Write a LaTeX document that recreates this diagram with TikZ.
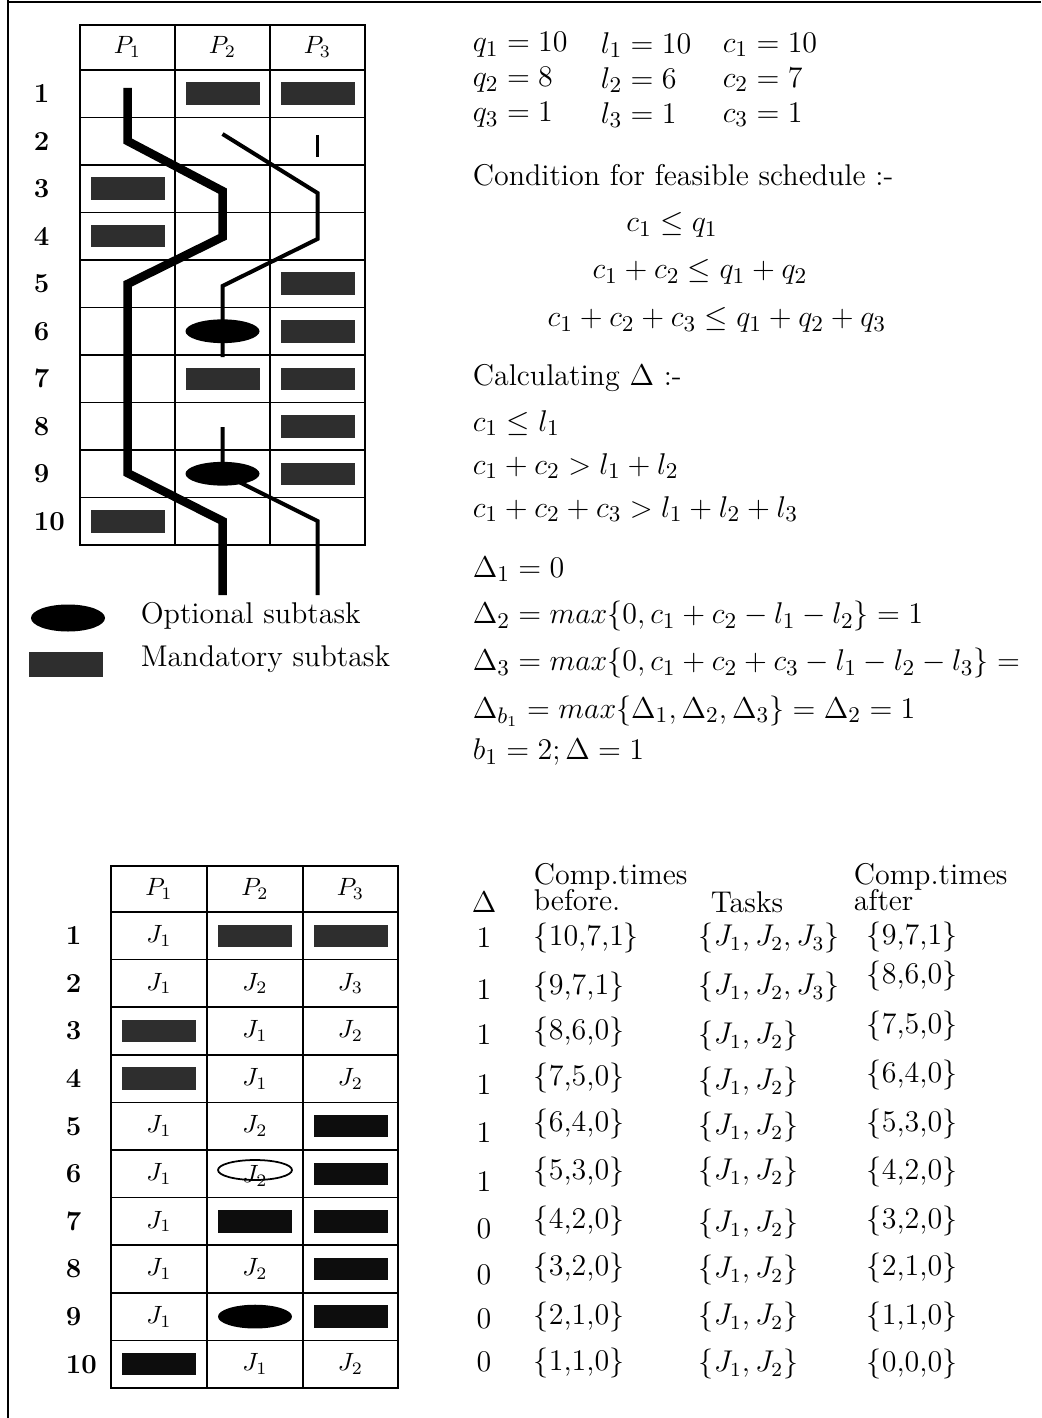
\documentclass[tikz,border=0pt]{standalone}
\usepackage{amsmath,amssymb}
\usetikzlibrary{shapes.geometric}

\begin{document}
\begin{tikzpicture}[x=0.4pt,y=-0.4pt,
  grid/.style={line width=0.6pt},
  mand/.style={rectangle,fill=black!82,minimum width=29.6pt,minimum height=9pt,inner sep=0pt},
  manddark/.style={mand,fill=black!95},
  opt/.style={ellipse,fill=black,minimum width=29.6pt,minimum height=9.5pt,inner sep=0pt},
  optopen/.style={ellipse,draw,line width=0.7pt,minimum width=29.6pt,minimum height=8pt,inner sep=0pt},
  rowlab/.style={anchor=west,font=\bfseries\fontsize{11}{13}\selectfont},
  eq/.style={anchor=west,font=\fontsize{12.5}{15}\selectfont},
  tab/.style={anchor=west,font=\large},
  job/.style={line width=3.4pt},
  jobthin/.style={line width=1.6pt}]
\useasboundingbox (0,0) rectangle (1041,1418);
\draw[line width=0.8pt] (8,0) -- (8,1418);
\draw[line width=0.8pt] (8,2) -- (1041,2);

% schedule with paths
\draw[grid] (80,25) rectangle (365,545);
\foreach \x in {175,270} \draw[grid] (\x,25) -- (\x,545);
\foreach \i in {0,...,9} \draw[grid] (80,{70+47.5*\i}) -- (365,{70+47.5*\i});
\node (tP1) at (127.5,47) {$P_1$};
\node (tP2) at (222.5,47) {$P_2$};
\node (tP3) at (317.5,47) {$P_3$};
\foreach \i in {1,...,10} \node[rowlab] (tl\i) at (25,{46.25+47.5*\i}) {\i};

\node[mand] (t1b) at (222.5,93.75) {};
\node[mand] (t1c) at (317.5,93.75) {};
\node[mand] (t3a) at (127.5,188.75) {};
\node[mand] (t4a) at (127.5,236.25) {};
\node[mand] (t5c) at (317.5,283.75) {};
\node[opt]  (o6)  at (222.5,331.25) {};
\node[mand] (t6c) at (317.5,331.25) {};
\node[mand] (t7b) at (222.5,378.75) {};
\node[mand] (t7c) at (317.5,378.75) {};
\node[mand] (t8c) at (317.5,426.25) {};
\node[opt]  (o9)  at (222.5,473.75) {};
\node[mand] (t9c) at (317.5,473.75) {};
\node[mand] (t10a) at (127.5,521.25) {};

\coordinate (j1a) at (127.5,88);
\coordinate (j1b) at (127.5,141);
\coordinate (j1c) at (222.5,191);
\coordinate (j1d) at (222.5,237);
\coordinate (j1e) at (127.5,284);
\coordinate (j1f) at (127.5,473);
\coordinate (j1g) at (222.5,521);
\coordinate (j1h) at (222.5,595);
\coordinate (j2a) at (222.5,134);
\coordinate (j2b) at (317.5,193);
\coordinate (j2c) at (317.5,239);
\coordinate (j2d) at (222.5,286);
\coordinate (j2e) at (222.5,357);
\coordinate (j2f) at (222.5,427);
\coordinate (j2g) at (317.5,521);
\coordinate (j2h) at (317.5,595);
\coordinate (j3a) at (317.5,135);
\coordinate (j3b) at (317.5,157);

\draw[job] (j1a) -- (j1b) -- (j1c) -- (j1d) -- (j1e) -- (j1f) -- (j1g) -- (j1h);
\draw[jobthin] (j2a) -- (j2b) -- (j2c) -- (j2d) -- (o6.center) -- (j2e);
\draw[jobthin] (j2f) -- (o9.center) -- (j2g) -- (j2h);
\draw[line width=1.2pt] (j3a) -- (j3b);

% legend
\node[opt,minimum height=10.8pt] (lopt) at (68,618) {};
\node[anchor=west,font=\large] (loptt) at (132,616) {Optional subtask};
\node[mand,minimum height=10pt] (lman) at (66,664) {};
\node[anchor=west,font=\large] (lmant) at (132,659) {Mandatory subtask};

% values and conditions
\node[eq] (q1) at (464,45) {$q_1 = 10$};
\node[eq] (l1) at (592,45) {$l_1 = 10$};
\node[eq] (c1) at (714,45) {$c_1 = 10$};
\node[eq] (q2) at (464,80) {$q_2 = 8$};
\node[eq] (l2) at (592,80) {$l_2 = 6$};
\node[eq] (c2) at (714,80) {$c_2 = 7$};
\node[eq] (q3) at (464,115) {$q_3 = 1$};
\node[eq] (l3) at (592,115) {$l_3 = 1$};
\node[eq] (c3) at (714,115) {$c_3 = 1$};

\node[tab] (cond) at (464,175) {Condition for feasible schedule :-};
\node[eq,anchor=center] (f1) at (672,225) {$c_1 \le q_1$};
\node[eq,anchor=center] (f2) at (700,272) {$c_1 + c_2 \le q_1 + q_2$};
\node[eq,anchor=center] (f3) at (717,320) {$c_1 + c_2 + c_3 \le q_1 + q_2 + q_3$};

\node[tab] (calc) at (464,378) {Calculating $\Delta$ :-};
\node[eq] (g1) at (464,423) {$c_1 \le l_1$};
\node[eq] (g2) at (464,466) {$c_1 + c_2 > l_1 + l_2$};
\node[eq] (g3) at (464,509) {$c_1 + c_2 + c_3 > l_1 + l_2 + l_3$};
\node[eq] (d1) at (464,569) {$\Delta_1 = 0$};
\node[eq] (d2) at (464,616) {$\Delta_2 = max\{0, c_1 + c_2 - l_1 - l_2\} = 1$};
\node[eq] (d3) at (464,663) {$\Delta_3 = max\{0, c_1 + c_2 + c_3 - l_1 - l_2 - l_3\} =$};
\node[eq] (db) at (464,711) {$\Delta_{b_1} = max\{\Delta_1, \Delta_2, \Delta_3\} = \Delta_2 = 1$};
\node[eq] (b1) at (464,752) {$b_1 = 2; \Delta = 1$};

% schedule with jobs
\draw[grid] (111,866) rectangle (398,1388);
\foreach \x in {207,303} \draw[grid] (\x,866) -- (\x,1388);
\foreach \i in {0,...,9} \draw[grid] (111,{912+47.6*\i}) -- (398,{912+47.6*\i});
\node (bP1) at (159,889) {$P_1$};
\node (bP2) at (255,889) {$P_2$};
\node (bP3) at (350.5,889) {$P_3$};
\foreach \i in {1,...,10} \node[rowlab] (bl\i) at (57,{888.2+47.6*\i}) {\i};

\foreach \n/\x/\r/\j in {b1a/159/1/1, b2a/159/2/1, b2b/255/2/2, b2c/350.5/2/3,
    b3b/255/3/1, b3c/350.5/3/2, b4b/255/4/1, b4c/350.5/4/2, b5a/159/5/1, b5b/255/5/2,
    b6a/159/6/1, b7a/159/7/1, b8a/159/8/1, b8b/255/8/2, b9a/159/9/1,
    b10b/255/10/1, b10c/350.5/10/2}
  \node (\n) at (\x,{888.2+47.6*\r}) {$J_\j$};
\foreach \n/\x/\r in {b1b/255/1, b1c/350.5/1, b3a/159/3, b4a/159/4}
  \node[mand] (\n) at (\x,{888.2+47.6*\r}) {};
\foreach \n/\x/\r in {b5c/350.5/5, b6c/350.5/6, b7b/255/7, b7c/350.5/7,
    b8c/350.5/8, b9c/350.5/9, b10a/159/10}
  \node[manddark] (\n) at (\x,{888.2+47.6*\r}) {};
\node[optopen] (b6b) at (255,1170) {};
\node (b6bt) at (255,1176) {$J_2$};
\node[opt] (b9b) at (255,1316.6) {};

% computation times
\node[font=\large] (hD) at (484,902) {$\Delta$};
\node[tab,align=left] (hB) at (525,887) {Comp.times\\[-3.5pt]before.};
\node[font=\large] (hT) at (747,902) {Tasks};
\node[tab,align=left] (hA) at (845,887) {Comp.times\\[-3.5pt]after};

\foreach \i/\d/\y in {1/1/938, 2/1/990, 3/1/1035, 4/1/1085, 5/1/1133,
    6/1/1182, 7/0/1229, 8/0/1275, 9/0/1319, 10/0/1362}
  \node[font=\large] (dd\i) at (484,\y) {$\d$};
\foreach \i/\v/\y in {1/{10,7,1}/938, 2/{9,7,1}/987, 3/{8,6,0}/1032, 4/{7,5,0}/1078,
    5/{6,4,0}/1124, 6/{5,3,0}/1172, 7/{4,2,0}/1221, 8/{3,2,0}/1268,
    9/{2,1,0}/1317, 10/{1,1,0}/1363}
  \node[tab] (cb\i) at (525,\y) {$\{$\v$\}$};
\foreach \i/\y in {1/938, 2/987}
  \node[tab] (tk\i) at (690,\y) {$\{J_1, J_2, J_3\}$};
\foreach \i/\y in {3/1036, 4/1082, 5/1127, 6/1172, 7/1224, 8/1270, 9/1317, 10/1364}
  \node[tab] (tk\i) at (690,\y) {$\{J_1, J_2\}$};
\foreach \i/\v/\y in {1/{9,7,1}/937, 2/{8,6,0}/976, 3/{7,5,0}/1026, 4/{6,4,0}/1075,
    5/{5,3,0}/1124, 6/{4,2,0}/1172, 7/{3,2,0}/1221, 8/{2,1,0}/1268,
    9/{1,1,0}/1317, 10/{0,0,0}/1364}
  \node[tab] (ca\i) at (858,\y) {$\{$\v$\}$};
\end{tikzpicture}
\end{document}
